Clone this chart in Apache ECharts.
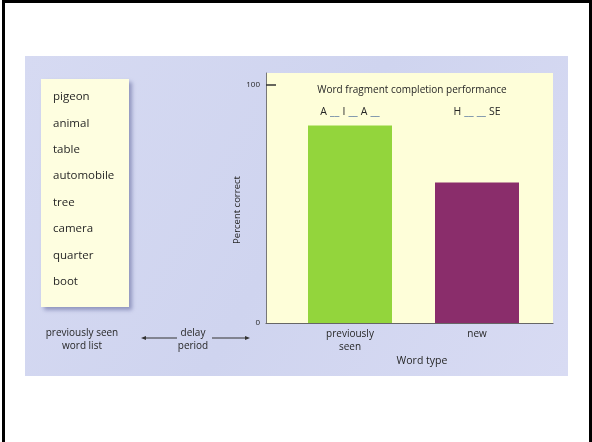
<!DOCTYPE html>
<html>
<head>
<meta charset="utf-8">
<script src="https://cdn.jsdelivr.net/npm/echarts@6/dist/echarts.min.js"></script>
<style>
html,body{margin:0;padding:0;background:#fff;}
#chart{width:592px;height:442px;}
</style>
</head>
<body>
<div id="chart"></div>
<script>
// ---- data ----
const categories = ['previously\nseen', 'new'];
const percentCorrect = [83, 59];
const fragments = ['A __ I __ A __', 'H __ __ SE'];
const wordList = ['pigeon', 'animal', 'table', 'automobile', 'tree', 'camera', 'quarter', 'boot'];
const yTickValues = [0, 100];
const barColors = ['#93d53c', '#8a2d6b'];

const FONT = '"Open Sans", "Liberation Sans", sans-serif';
const TXT = '#262626';

const chart = echarts.init(document.getElementById('chart'), null, {renderer: 'canvas'});

// word list graphic text
const wordGraphics = wordList.map((w, i) => ({
  type: 'text', left: 53, top: 91 + i * 26.4, z: 12,
  style: {text: w, fill: TXT, font: '11.5px ' + FONT}
}));

function fragFormatter(v) {
  return v.split(' ').map(p => p.indexOf('_') >= 0 ? '{u|' + p + '}' : '{l|' + p + '}').join(' ');
}

const option = {
  animation: false,
  backgroundColor: '#ffffff',
  textStyle: {fontFamily: FONT},
  title: {
    text: 'Word fragment completion performance',
    left: 407, top: 80, textAlign: 'center',
    textStyle: {fontSize: 10, fontWeight: 'normal', color: TXT, fontFamily: FONT}
  },
  graphic: [
    // page frame
    {type: 'rect', shape: {x: 2, y: 0, width: 3, height: 442}, style: {fill: '#000'}, z: 20},
    {type: 'rect', shape: {x: 2, y: 0, width: 590, height: 3}, style: {fill: '#000'}, z: 20},
    {type: 'rect', shape: {x: 589, y: 0, width: 3, height: 442}, style: {fill: '#000'}, z: 20},
    // blue panel
    {type: 'rect', shape: {x: 25, y: 56, width: 543, height: 320}, z: -10,
      style: {fill: new echarts.graphic.LinearGradient(0, 0, 1, 1, [
        {offset: 0, color: '#d6daf2'}, {offset: 0.5, color: '#cfd4ef'}, {offset: 1, color: '#d8dbf3'}])}},
    // word list box
    {type: 'rect', shape: {x: 41, y: 79, width: 88, height: 228}, z: 10,
      style: {fill: '#fefee0', shadowBlur: 4, shadowOffsetX: 3, shadowOffsetY: 3, shadowColor: 'rgba(90,95,150,0.55)'}},
    ...wordGraphics,
    // bottom-left labels
    {type: 'text', z: 12, position: [82, 327],
      style: {text: 'previously seen\nword list', fill: TXT, font: '10px ' + FONT, align: 'center', lineHeight: 13}},
    {type: 'text', z: 12, position: [193, 327],
      style: {text: 'delay\nperiod', fill: TXT, font: '10px ' + FONT, align: 'center', lineHeight: 13}},
    // arrows
    {type: 'line', z: 12, shape: {x1: 145, y1: 338, x2: 177, y2: 338}, style: {stroke: '#333', lineWidth: 1}},
    {type: 'polygon', z: 12, shape: {points: [[141, 338], [146, 336], [146, 340]]}, style: {fill: '#333'}},
    {type: 'line', z: 12, shape: {x1: 212, y1: 338, x2: 246, y2: 338}, style: {stroke: '#333', lineWidth: 1}},
    {type: 'polygon', z: 12, shape: {points: [[250, 338], [245, 336], [245, 340]]}, style: {fill: '#333'}}
  ],
  grid: [
    {left: 266, top: 73, width: 287, height: 250, show: true, backgroundColor: '#fefed9', borderWidth: 0},
    {left: 286.5, top: 73, width: 254, height: 250}
  ],
  xAxis: [
    {
      type: 'value', gridIndex: 0, min: 0, max: 1,
      axisLine: {show: true, lineStyle: {color: '#666', width: 1.2}},
      axisTick: {show: false}, axisLabel: {show: false}, splitLine: {show: false},
      name: 'Word type', nameLocation: 'middle', nameGap: 33,
      nameTextStyle: {fontSize: 10.5, color: TXT, padding: [0, 0, 0, 25]}
    },
    {
      type: 'category', gridIndex: 1, data: categories,
      axisLine: {show: false}, axisTick: {show: false},
      axisLabel: {fontSize: 10, color: TXT, lineHeight: 13, margin: 5, interval: 0}
    },
    {
      type: 'category', gridIndex: 1, position: 'top', data: fragments,
      axisLine: {show: false}, axisTick: {show: false},
      axisLabel: {
        inside: true, margin: 33, interval: 0, formatter: fragFormatter,
        rich: {
          l: {fontSize: 10.5, color: TXT, fontFamily: FONT},
          u: {fontSize: 10.5, color: '#4f6f9c', fontFamily: FONT}
        }
      }
    }
  ],
  yAxis: [
    {
      type: 'value', gridIndex: 0, min: 0, max: 105,
      axisLine: {show: true, lineStyle: {color: '#777', width: 1}},
      axisTick: {show: true, inside: true, length: 10, customValues: [100], lineStyle: {color: '#333', width: 1.5}},
      axisLabel: {customValues: yTickValues, fontSize: 8, color: TXT, margin: 6},
      splitLine: {show: false},
      name: 'Percent correct', nameLocation: 'middle', nameGap: 12, nameRotate: 90,
      nameTextStyle: {fontSize: 9.5, color: TXT, padding: [0, 24, 0, 0]}
    },
    {
      type: 'value', gridIndex: 1, min: 0, max: 105, show: false
    }
  ],
  series: [
    {
      type: 'bar', xAxisIndex: 1, yAxisIndex: 1, barWidth: 84,
      data: percentCorrect.map((v, i) => ({value: v, itemStyle: {color: barColors[i]}}))
    }
  ]
};
chart.setOption(option);
</script>
</body>
</html>
